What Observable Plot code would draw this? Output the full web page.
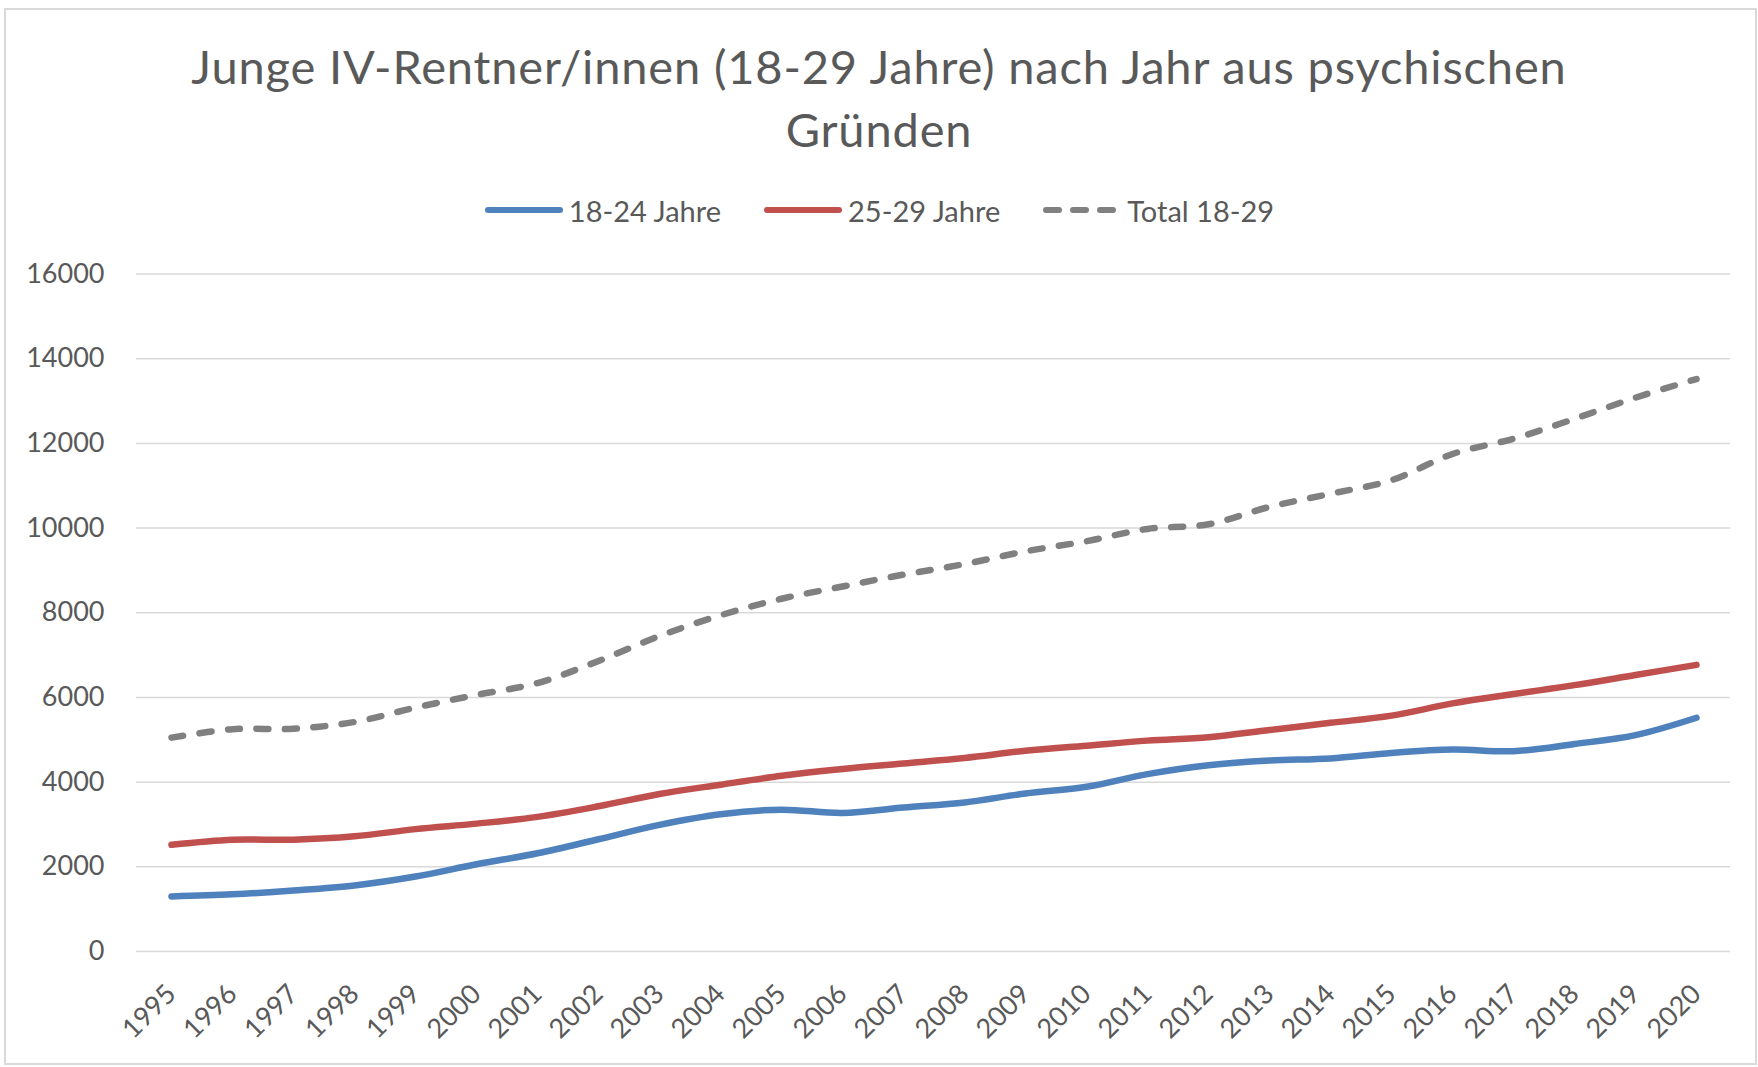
<!DOCTYPE html>
<html>
<head>
<meta charset="utf-8">
<script src="https://cdn.jsdelivr.net/npm/d3@7"></script>
<script src="https://cdn.jsdelivr.net/npm/@observablehq/plot@0.6"></script>
<style>
  html, body { margin: 0; padding: 0; background: #fff; }
  #chart { position: relative; width: 1758px; height: 1067px; overflow: hidden; font-family: Lato, "Open Sans", sans-serif; color: #595959; }
  #frame { position: absolute; left: 4px; top: 8px; width: 1753px; height: 1057px; border: 2px solid #d9d9d9; box-sizing: border-box; }
  .tline { position: absolute; left: 0; width: 1758px; text-align: center; font-size: 47px; font-weight: 400; line-height: 60px; white-space: nowrap; color: #595959; }
  #legend { position: absolute; left: 0; width: 1758px; top: 192px; height: 36px; display: flex; justify-content: center; align-items: center; font-size: 29px; color: #595959; }
  .item { display: flex; align-items: center; margin: 0 21px; }
  .item svg { margin-right: 5px; }
  #plot { position: absolute; left: 0; top: 230px; }
</style>
</head>
<body>
<div id="chart">
  <div id="frame"></div>
  <div id="title"></div>
  <div id="legend"></div>
  <div id="plot"></div>
</div>
<script>
const years = [1995, 1996, 1997, 1998, 1999, 2000, 2001, 2002, 2003, 2004, 2005, 2006, 2007,
               2008, 2009, 2010, 2011, 2012, 2013, 2014, 2015, 2016, 2017, 2018, 2019, 2020];
const ages1824 = [1300, 1350, 1440, 1560, 1770, 2060, 2320, 2650, 2990, 3240, 3350, 3270, 3400,
                  3520, 3730, 3890, 4190, 4400, 4510, 4560, 4690, 4770, 4730, 4900, 5110, 5520];
const ages2529 = [2520, 2640, 2640, 2720, 2890, 3020, 3180, 3430, 3720, 3940, 4150, 4310, 4440,
                  4570, 4740, 4860, 4980, 5060, 5230, 5400, 5570, 5860, 6080, 6290, 6530, 6770];
const total1829 = [5050, 5250, 5260, 5420, 5760, 6060, 6340, 6860, 7450, 7940, 8330, 8620, 8900,
                   9150, 9450, 9690, 9980, 10090, 10500, 10810, 11130, 11750, 12110, 12580, 13080, 13520];
const seriesNames = ["18-24 Jahre", "25-29 Jahre", "Total 18-29"];
const seriesColors = ["#4F81BD", "#C0504D", "#808080"];
const yTicks = [0, 2000, 4000, 6000, 8000, 10000, 12000, 14000, 16000];
const titleLines = ["Junge IV-Rentner/innen (18-29 Jahre) nach Jahr aus psychischen", "Gründen"];

const seriesValues = [ages1824, ages2529, total1829];
const rows = years.flatMap((yr, i) => seriesNames.map((s, k) => ({ year: String(yr), value: seriesValues[k][i], series: s })));

// Title
const titleEl = document.getElementById("title");
const ctx = document.createElement("canvas").getContext("2d");
ctx.font = "400 47px Lato";
const w0 = ctx.measureText(titleLines[0]).width;
const ls = (1379 - w0) / titleLines[0].length;
titleLines.forEach((t, i) => {
  const d = document.createElement("div");
  d.className = "tline";
  d.style.top = (36 + i * 63) + "px";
  d.style.letterSpacing = ls + "px";
  d.textContent = t;
  titleEl.appendChild(d);
});

// Legend
const legend = document.getElementById("legend");
seriesNames.forEach((s, k) => {
  const it = document.createElement("div");
  it.className = "item";
  const dash = k === 2 ? ' stroke-dasharray="13,14"' : "";
  it.innerHTML = `<svg width="80" height="14"><line x1="4" y1="7" x2="76" y2="7" stroke="${seriesColors[k]}" stroke-width="6" stroke-linecap="round"${dash}/></svg><span>${s}</span>`;
  legend.appendChild(it);
});

// Plot
const chart = Plot.plot({
  width: 1758,
  height: 830,
  marginLeft: 136,
  marginRight: 28,
  marginTop: 43.5,
  marginBottom: 109,
  style: { fontFamily: "Lato, sans-serif", fontSize: "27px", color: "#595959", background: "transparent", overflow: "visible" },
  x: { type: "point", domain: years.map(String), padding: 0.5 },
  y: { domain: [0, 16000] },
  color: { domain: seriesNames, range: seriesColors },
  marks: [
    Plot.gridY(yTicks, { stroke: "#d9d9d9", strokeOpacity: 1, strokeWidth: 1.5 }),
    Plot.axisY(yTicks, { tickSize: 0, tickPadding: 32, tickFormat: d => String(d), fill: "#595959", label: null }),
    Plot.axisX({ tickSize: 0, tickPadding: 38, tickRotate: -45, textAnchor: "end", lineAnchor: "middle", fill: "#595959", label: null }),
    Plot.line(rows.filter(d => d.series !== "Total 18-29"), {
      x: "year", y: "value", z: "series", stroke: "series", strokeWidth: 6.5, curve: "catmull-rom", strokeLinecap: "round", strokeLinejoin: "round"
    }),
    Plot.line(rows.filter(d => d.series === "Total 18-29"), {
      x: "year", y: "value", stroke: "series", strokeWidth: 6.5, curve: "catmull-rom", strokeLinecap: "round", strokeDasharray: "12,16.5"
    })
  ]
});
document.getElementById("plot").appendChild(chart);
</script>
</body>
</html>
